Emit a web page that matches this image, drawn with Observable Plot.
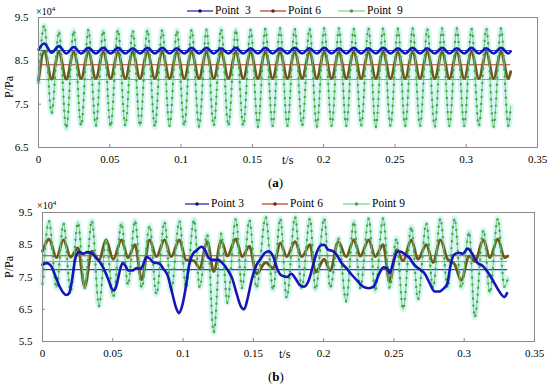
<!DOCTYPE html>
<html><head><meta charset="utf-8">
<script src="https://cdn.jsdelivr.net/npm/d3@7"></script>
<script src="https://cdn.jsdelivr.net/npm/@observablehq/plot@0.6"></script>
<style>
body{margin:0;background:#fff;}
#root{position:relative;width:550px;height:389px;overflow:hidden;font-family:"Liberation Serif","Times New Roman",Tinos,"DejaVu Serif",serif;color:#000;background:#fff;}
.abs{position:absolute;white-space:pre;line-height:1;}
.leg{position:absolute;display:flex;align-items:center;white-space:pre;font-size:11.5px;line-height:1;}
.leg svg{display:block;margin-right:2px;}
</style></head><body><div id="root"></div>
<script>
// ---------- data ----------
const seriesNames = ["Point  3", "Point 6", "Point  9"];
const xTicks = [0, 0.05, 0.1, 0.15, 0.2, 0.25, 0.3, 0.35];
const yTicksA = [6.5, 7.5, 8.5, 9.5];
const yTicksB = [5.5, 6.5, 7.5, 8.5, 9.5];

// panel (a): times of successive crests / troughs (s), values x10^4 Pa
const tA = [0, 0.0040, 0.0092, 0.0143, 0.0195, 0.0247, 0.0299, 0.0350, 0.0402, 0.0454,
  0.0506, 0.0557, 0.0609, 0.0661, 0.0712, 0.0764, 0.0816, 0.0868, 0.0919, 0.0971,
  0.1022, 0.1074, 0.1126, 0.1178, 0.1229, 0.1281, 0.1332, 0.1384, 0.1436, 0.1488,
  0.1539, 0.1591, 0.1642, 0.1694, 0.1746, 0.1797, 0.1849, 0.1901, 0.1952, 0.2004,
  0.2056, 0.2107, 0.2159, 0.2211, 0.2263, 0.2314, 0.2366, 0.2417, 0.2469, 0.2521,
  0.2572, 0.2624, 0.2676, 0.2727, 0.2779, 0.2831, 0.2882, 0.2934, 0.2986, 0.3037,
  0.3089, 0.3141, 0.3192, 0.3244, 0.3296, 0.3312];
const p3A = [8.76, 8.90, 8.69, 8.84, 8.67, 8.82, 8.67, 8.80, 8.67, 8.80,
  8.67, 8.80, 8.67, 8.79, 8.67, 8.80, 8.67, 8.80, 8.67, 8.79,
  8.67, 8.80, 8.67, 8.80, 8.67, 8.79, 8.67, 8.80, 8.67, 8.79,
  8.67, 8.80, 8.67, 8.79, 8.67, 8.80, 8.67, 8.79, 8.67, 8.80,
  8.67, 8.79, 8.67, 8.80, 8.67, 8.79, 8.67, 8.80, 8.67, 8.79,
  8.67, 8.80, 8.67, 8.79, 8.67, 8.80, 8.67, 8.79, 8.67, 8.80,
  8.67, 8.79, 8.67, 8.80, 8.67, 8.72];
const p6A = [8.05, 8.72, 8.08, 8.70, 8.08, 8.70, 8.09, 8.70, 8.09, 8.70,
  8.09, 8.70, 8.09, 8.70, 8.09, 8.70, 8.09, 8.70, 8.09, 8.70,
  8.09, 8.70, 8.09, 8.70, 8.09, 8.70, 8.09, 8.70, 8.09, 8.70,
  8.09, 8.70, 8.09, 8.70, 8.09, 8.70, 8.09, 8.70, 8.09, 8.70,
  8.09, 8.70, 8.09, 8.70, 8.09, 8.70, 8.09, 8.70, 8.09, 8.70,
  8.09, 8.70, 8.09, 8.70, 8.09, 8.70, 8.09, 8.70, 8.09, 8.70,
  8.09, 8.70, 8.09, 8.70, 8.09, 8.25];
const p9A = [8.00, 9.32, 7.29, 9.18, 6.94, 9.20, 7.00, 9.22, 7.00, 9.20,
  6.98, 9.22, 7.00, 9.20, 7.00, 9.22, 6.98, 9.22, 7.00, 9.20,
  7.00, 9.22, 6.98, 9.22, 7.00, 9.24, 7.00, 9.22, 7.00, 9.22,
  6.98, 9.24, 7.00, 9.25, 7.00, 9.24, 7.00, 9.25, 6.98, 9.25,
  7.00, 9.25, 7.00, 9.24, 7.00, 9.25, 6.98, 9.25, 7.00, 9.24,
  7.00, 9.25, 7.00, 9.24, 6.98, 9.25, 7.00, 9.25, 7.00, 9.24,
  7.00, 9.25, 6.98, 9.25, 7.00, 7.45];
const meanA = [8.74, 8.41, 8.07];

// panel (b)
const tB = [0, 0.0047, 0.0099, 0.0149, 0.0200, 0.0252, 0.0300, 0.0351, 0.0402, 0.0452,
  0.0503, 0.0562, 0.0608, 0.0658, 0.0705, 0.0762, 0.0810, 0.0868, 0.0915, 0.0974,
  0.1021, 0.1078, 0.1118, 0.1172, 0.1218, 0.1272, 0.1315, 0.1375, 0.1420, 0.1472,
  0.1522, 0.1588, 0.1640, 0.1692, 0.1737, 0.1797, 0.1844, 0.1903, 0.1942, 0.2004,
  0.2047, 0.2104, 0.2160, 0.2215, 0.2260, 0.2321, 0.2366, 0.2423, 0.2470, 0.2518,
  0.2565, 0.2624, 0.2671, 0.2730, 0.2778, 0.2830, 0.2882, 0.2931, 0.2979, 0.3035,
  0.3075, 0.3137, 0.3182, 0.3239, 0.3286, 0.3310];
const p9B = [7.30, 9.23, 7.16, 9.16, 7.06, 9.19, 7.16, 9.25, 6.60, 8.65,
  6.88, 9.17, 7.25, 9.25, 7.16, 9.10, 6.96, 9.21, 7.06, 9.24,
  7.16, 9.28, 7.18, 8.82, 5.78, 8.85, 6.70, 9.30, 7.16, 9.27,
  7.16, 9.36, 7.10, 9.32, 6.85, 9.37, 7.16, 9.32, 7.11, 9.32,
  7.16, 8.70, 6.75, 9.22, 7.16, 9.32, 7.06, 9.32, 7.16, 8.70,
  6.50, 9.06, 6.80, 9.17, 7.16, 9.32, 7.16, 9.32, 7.16, 8.90,
  6.25, 8.96, 7.00, 9.32, 7.20, 7.45];
const p6B = [8.30, 8.67, 8.10, 8.65, 8.12, 8.40, 7.20, 8.30, 8.02, 8.65,
  8.05, 8.65, 8.10, 8.50, 7.42, 8.65, 8.13, 8.65, 8.13, 8.65,
  8.03, 8.00, 7.78, 8.60, 7.67, 8.62, 8.15, 8.68, 8.13, 8.45,
  7.60, 7.95, 7.78, 8.55, 8.13, 8.60, 8.13, 8.50, 7.65, 8.05,
  7.70, 8.60, 8.13, 8.65, 8.15, 8.65, 8.13, 8.50, 7.35, 8.35,
  8.00, 8.65, 8.05, 8.50, 7.95, 8.65, 8.05, 7.90, 7.40, 8.15,
  7.98, 8.65, 8.10, 8.68, 8.10, 8.15];
const tB3 = [0, 0.003, 0.006, 0.009, 0.012, 0.015, 0.017, 0.019, 0.021, 0.0235,
  0.026, 0.029, 0.032, 0.035, 0.038, 0.041, 0.044, 0.047, 0.0495, 0.051,
  0.053, 0.055, 0.057, 0.059, 0.061, 0.064, 0.067, 0.069, 0.071, 0.074,
  0.076, 0.079, 0.083, 0.086, 0.089, 0.092, 0.095, 0.097, 0.099, 0.102,
  0.104, 0.107, 0.110, 0.113, 0.116, 0.118, 0.121, 0.125, 0.128, 0.132,
  0.135, 0.138, 0.141, 0.1435, 0.146, 0.149, 0.152, 0.155, 0.158, 0.161,
  0.164, 0.167, 0.170, 0.174, 0.177, 0.180, 0.183, 0.186, 0.189, 0.192,
  0.195, 0.198, 0.2005, 0.203, 0.2065, 0.209, 0.2125, 0.216, 0.220, 0.224,
  0.228, 0.232, 0.2355, 0.239, 0.2425, 0.245, 0.247, 0.2495, 0.2525, 0.255,
  0.258, 0.261, 0.264, 0.268, 0.272, 0.2755, 0.279, 0.282, 0.2855, 0.288,
  0.290, 0.2925, 0.296, 0.299, 0.3025, 0.306, 0.3095, 0.313, 0.3175, 0.321,
  0.325, 0.3285, 0.3305];
const p3B = [7.88, 7.93, 7.85, 7.55, 7.22, 7.00, 6.94, 7.00, 7.40, 8.10,
  8.28, 8.22, 8.27, 8.24, 8.10, 7.95, 7.72, 7.40, 7.12, 7.08,
  7.30, 7.70, 7.93, 7.85, 7.70, 7.70, 7.78, 7.75, 7.82, 8.12,
  8.08, 7.95, 7.92, 7.75, 7.55, 7.05, 6.55, 6.38, 6.55, 7.20,
  7.80, 8.22, 8.34, 8.44, 8.30, 8.10, 8.03, 8.03, 7.93, 7.70,
  7.45, 7.00, 6.60, 6.50, 6.85, 7.45, 7.85, 8.05, 8.24, 8.30,
  8.15, 7.75, 7.55, 7.50, 7.60, 7.45, 7.25, 7.20, 7.35, 7.78,
  8.25, 8.48, 8.50, 8.35, 8.30, 8.20, 7.95, 7.78, 7.57, 7.38,
  7.20, 7.15, 7.20, 7.55, 7.80, 7.78, 7.62, 7.95, 8.30, 8.28,
  8.20, 8.10, 7.90, 7.75, 7.60, 7.30, 7.05, 7.05, 7.15, 7.30,
  7.80, 8.18, 8.25, 8.22, 8.38, 8.20, 7.93, 7.85, 7.60, 7.35,
  7.05, 6.88, 7.00];
const meanB = [7.73, 8.16, 7.98];

// ---------- drawing ----------
const FONT = "'Liberation Serif','Times New Roman',Tinos,'DejaVu Serif',serif";
const C = {
  blue: "#1616b8", blueMean: "#2846c8",
  olive: "#6b5a1c", red: "#c8302a",
  green: "#78cc7a", greenDot: "#4f9d55", greenMean: "#7fae6c", halo: "#c9f6ee"
};
const fmtX = d => String(+d.toFixed(2));
const rows = (t, v) => t.map((ti, i) => ({t: ti, v: v[i]}));

function panel({t3, v3, t6, v6, t9, v9, means, yDomain, yTicks, height, mt, mb, ml, mr, top}) {
  const r3 = rows(t3, v3), r6 = rows(t6, v6), r9 = rows(t9, v9);
  const t0 = d3.min(t9), t1 = d3.max(t9);
  const meanRows = means.map((m, i) => ({v: m, s: i}));
  const innerH = height - mt - mb, innerW = 550 - ml - mr;
  const meanColors = [C.blueMean, C.red, C.greenMean];
  const svg = Plot.plot({
    width: 550, height, marginTop: mt, marginBottom: mb, marginLeft: ml, marginRight: mr,
    x: {domain: [0, 0.35]},
    y: {domain: yDomain},
    style: {fontFamily: FONT, fontSize: "11px", color: "#000", background: "transparent", overflow: "visible"},
    marks: [
      Plot.line(r9, {x: "t", y: "v", curve: "monotone-x", stroke: C.halo, strokeWidth: 6, strokeOpacity: 0.8}),
      Plot.ruleY(meanRows, {y: "v", x1: t0, x2: t1, stroke: d => meanColors[d.s], strokeWidth: 1.1}),
      Plot.line(r6, {x: "t", y: "v", curve: "monotone-x", stroke: C.olive, strokeWidth: 2.8}),
      Plot.line(r9, {x: "t", y: "v", curve: "monotone-x", stroke: C.green, strokeWidth: 1}),
      Plot.line(r9, {x: "t", y: "v", curve: "monotone-x", stroke: C.greenDot, strokeWidth: 2.4, strokeDasharray: "0 7", strokeLinecap: "round"}),
      Plot.line(r3, {x: "t", y: "v", curve: "monotone-x", stroke: C.blue, strokeWidth: 2.6}),
      Plot.frame({stroke: "#8a8a8a"}),
      Plot.tickX(xTicks, {x: d => d, insetTop: innerH - 3, stroke: "#8a8a8a"}),
      Plot.tickY(yTicks, {y: d => d, insetRight: innerW - 3, stroke: "#8a8a8a"}),
      Plot.axisX({ticks: xTicks, tickFormat: fmtX, tickSize: 0, tickPadding: 8, label: null}),
      Plot.axisY({ticks: yTicks, tickFormat: d => d.toFixed(1), tickSize: 0, tickPadding: 10, label: null})
    ]
  });
  svg.style.position = "absolute";
  svg.style.left = "0px";
  svg.style.top = top + "px";
  svg.style.fontFamily = FONT;
  return svg;
}

const root = document.getElementById("root");
root.appendChild(panel({t3: tA, v3: p3A, t6: tA, v6: p6A, t9: tA, v9: p9A, means: meanA,
  yDomain: [6.5, 9.5], yTicks: yTicksA, height: 175, mt: 17, mb: 28, ml: 38, mr: 13, top: 0}));
root.appendChild(panel({t3: tB3, v3: p3B, t6: tB, v6: p6B, t9: tB, v9: p9B, means: meanB,
  yDomain: [5.5, 9.5], yTicks: yTicksB, height: 170, mt: 22, mb: 19, ml: 42, mr: 16, top: 190}));

function addText(html, x, y, extra = "") {
  const d = document.createElement("div");
  d.className = "abs"; d.innerHTML = html;
  d.style.cssText += `left:${x}px;top:${y}px;${extra}`;
  root.appendChild(d); return d;
}
function legend(x, y, lineColor, dotColor, w, label) {
  const d = document.createElement("div");
  d.className = "leg";
  d.style.left = x + "px"; d.style.top = (y - 6) + "px";
  d.innerHTML = `<svg width="${w}" height="12"><line x1="0" x2="${w}" y1="6" y2="6" stroke="${lineColor}" stroke-width="1.3"/><circle cx="${w/2}" cy="6" r="1.8" fill="${dotColor}"/></svg><span>${label}</span>`;
  root.appendChild(d);
}
const legColors = [["#2a2aa8", "#111166"], ["#c0442c", "#5a2a10"], ["#86d48a", "#4f9d55"]];
// panel (a) annotations
legend(187, 11, legColors[0][0], legColors[0][1], 26, seriesNames[0]);
legend(260, 11, legColors[1][0], legColors[1][1], 26, seriesNames[1]);
legend(338, 11, legColors[2][0], legColors[2][1], 27, seriesNames[2]);
addText("×10<sup style='font-size:7px'>4</sup>", 36, 6, "font-size:10px;");
addText("P/Pa", 3, 98, "font-size:12px;transform:rotate(-90deg);transform-origin:left top;");
addText("t/s", 282, 154, "font-size:12px;");
addText("(<b>a</b>)", 268, 176, "font-size:13px;");
// panel (b) annotations
legend(185, 204, legColors[0][0], legColors[0][1], 24, seriesNames[0].replace("  ", " "));
legend(262, 204, legColors[1][0], legColors[1][1], 26, seriesNames[1]);
legend(343, 204, legColors[2][0], legColors[2][1], 27, seriesNames[2].replace("  ", " "));
addText("×10<sup style='font-size:7px'>4</sup>", 37, 200, "font-size:10px;");
addText("P/Pa", 3, 278, "font-size:12px;transform:rotate(-90deg);transform-origin:left top;");
addText("t/s", 279, 348, "font-size:12px;");
addText("(<b>b</b>)", 268, 370, "font-size:13px;");
</script></body></html>
